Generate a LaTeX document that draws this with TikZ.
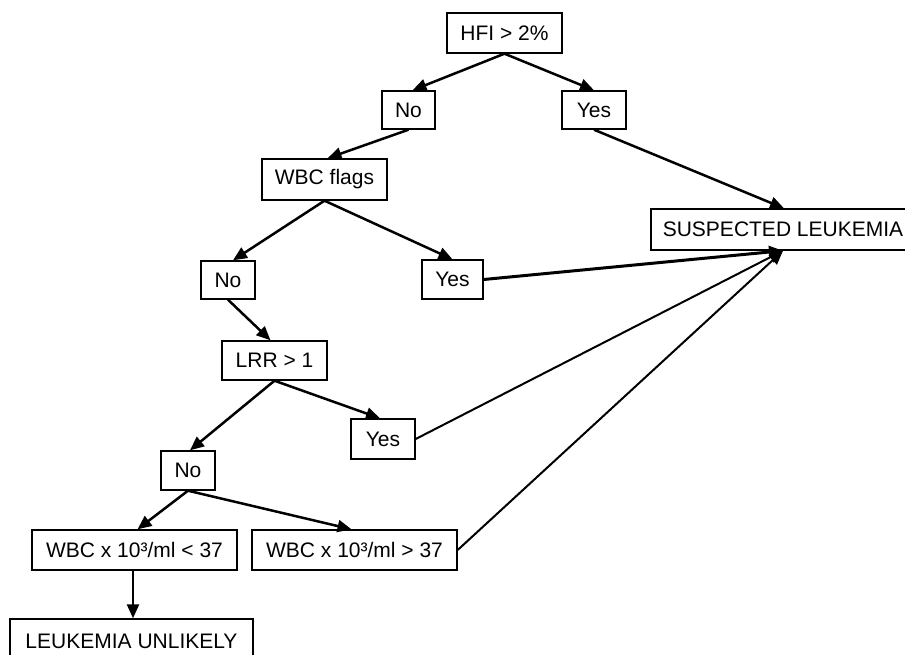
\documentclass[tikz,border=0pt]{standalone}
\usepackage{fontspec}
\setmainfont{Liberation Sans}
\usetikzlibrary{arrows.meta}
\begin{document}
\begin{tikzpicture}[x=1pt,y=-1pt,
  box/.style={draw=black, line width=1.4pt, fill=white, inner sep=0pt, font=\fontsize{21}{24}\selectfont},
  arr/.style={line width=2.5pt, -{Triangle[length=14pt,width=12pt]}},
  thinarr/.style={line width=2pt, -{Triangle[length=14pt,width=12pt]}}]
\useasboundingbox (0,0) rectangle (905,655);
\begin{scope}
\clip (0,0) rectangle (905,655);
\node[box, minimum width=115pt, minimum height=40pt] (hfi) at (504.5,33) {HFI > 2\%};
\node[box, minimum width=53pt, minimum height=38pt] (no1) at (408.5,110) {No};
\node[box, minimum width=64pt, minimum height=38pt] (yes1) at (594,110) {Yes};
\node[box, minimum width=125pt, minimum height=41pt] (wbc) at (324.5,179.5) {WBC flags};
\node[box, minimum width=264pt, minimum height=41pt] (sl) at (783,229.5) {SUSPECTED LEUKEMIA};
\node[box, minimum width=61pt, minimum height=39pt] (yes2) at (452.5,279.5) {Yes};
\node[box, minimum width=54pt, minimum height=38pt] (no2) at (228,280) {No};
\node[box, minimum width=105pt, minimum height=39pt] (lrr) at (274.5,360.5) {LRR > 1};
\node[box, minimum width=64pt, minimum height=40pt] (yes3) at (383,439) {Yes};
\node[box, minimum width=54pt, minimum height=39pt] (no3) at (188,470.5) {No};
\node[box, minimum width=205pt, minimum height=40pt] (lt37) at (134.5,550) {WBC x 10³/ml < 37};
\node[box, minimum width=205pt, minimum height=40pt] (gt37) at (354.5,550) {WBC x 10³/ml > 37};
\node[box, minimum width=243pt, minimum height=44pt] (lu) at (131.5,641) {LEUKEMIA UNLIKELY};

\draw[arr] (hfi.south) -- ([xshift=4pt]no1.north);
\draw[arr] (hfi.south) -- (yes1.north);
\draw[arr] (no1.south) -- ([xshift=3pt]wbc.north);
\draw[arr] (wbc.south) -- ([xshift=5pt]no2.north);
\draw[arr] (wbc.south) -- (yes2.north);
\draw[arr] (no2.south) -- ([xshift=-4pt]lrr.north);
\draw[arr] (lrr.south) -- ([xshift=2pt]no3.north);
\draw[arr] (lrr.south) -- ([xshift=-3pt]yes3.north);
\draw[arr] (no3.south) -- ([xshift=3pt]lt37.north);
\draw[arr] (no3.south) -- ([xshift=-3pt]gt37.north);
\draw[arr] ([xshift=-1.5pt]lt37.south) -- ([xshift=-1.5pt]lt37.south |- lu.north);
\draw[arr] (yes1.south) -- ([xshift=1pt]sl.north);
\draw[line width=3pt, -{Triangle[length=14pt,width=12pt]}] (yes2.east) -- (sl.south);
\draw[thinarr] (yes3.east) -- (sl.south);
\draw[thinarr] (gt37.east) -- (sl.south);
\end{scope}
\end{tikzpicture}
\end{document}
